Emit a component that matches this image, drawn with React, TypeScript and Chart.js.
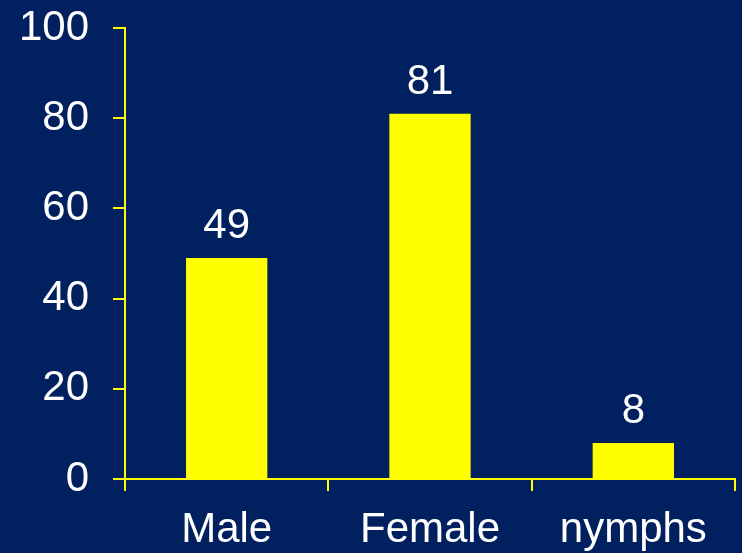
import React, { useEffect, useRef } from "react";
import { Chart, registerables } from "chart.js";

Chart.register(...registerables);

const categories = ["Male", "Female", "nymphs"];
const counts = [49, 81, 8];
const yTicks = [0, 20, 40, 60, 80, 100];

const NAVY = "#002060";
const YELLOW = "#FFFF00";
const FONT = "'Liberation Sans', Arial, sans-serif";

const valueLabels = {
  id: "valueLabels",
  afterDatasetsDraw(chart: any) {
    const ctx = chart.ctx;
    const meta = chart.getDatasetMeta(0);
    ctx.save();
    ctx.fillStyle = "#FFFFFF";
    ctx.font = `42px ${FONT}`;
    ctx.textAlign = "center";
    ctx.textBaseline = "alphabetic";
    meta.data.forEach((bar: any, i: number) => {
      ctx.fillText(String(counts[i]), bar.x, bar.y - 20);
    });
    ctx.restore();
  },
};

export default function App() {
  const ref = useRef<HTMLCanvasElement>(null);
  useEffect(() => {
    if (!ref.current) return;
    const chart = new Chart(ref.current, {
      type: "bar",
      data: {
        labels: categories,
        datasets: [
          {
            data: counts,
            backgroundColor: YELLOW,
            borderWidth: 0,
            barPercentage: 0.4,
            categoryPercentage: 1,
          },
        ],
      },
      options: {
        animation: false,
        responsive: false,
        maintainAspectRatio: false,
        layout: { padding: { top: 28, right: 7, bottom: 0, left: 0 } },
        plugins: { legend: { display: false }, tooltip: { enabled: false } },
        scales: {
          x: {
            offset: true,
            border: { color: YELLOW, width: 2 },
            grid: {
              offset: true,
              drawOnChartArea: false,
              drawTicks: true,
              tickLength: 12,
              color: YELLOW,
              lineWidth: 2,
            },
            ticks: {
              color: "#FFFFFF",
              font: { family: FONT, size: 42 },
              padding: 14,
            },
            afterFit(scale: any) {
              scale.height = 74;
            },
          },
          y: {
            min: 0,
            max: 100,
            border: { color: YELLOW, width: 2 },
            grid: {
              drawOnChartArea: false,
              drawTicks: true,
              tickLength: 12,
              color: YELLOW,
              lineWidth: 2,
            },
            afterBuildTicks(scale: any) {
              scale.ticks = yTicks.map((v) => ({ value: v }));
            },
            ticks: {
              color: "#FFFFFF",
              font: { family: FONT, size: 42, lineHeight: 0.05 },
              padding: 24,
            },
            afterFit(scale: any) {
              scale.width = 125;
            },
          },
        },
      },
      plugins: [valueLabels],
    });
    return () => chart.destroy();
  }, []);
  return (
    <div
      style={{
        position: "fixed",
        left: 0,
        top: 0,
        width: 742,
        height: 553,
        background: NAVY,
      }}
    >
      <canvas ref={ref} width={742} height={553} style={{ display: "block" }} />
    </div>
  );
}
